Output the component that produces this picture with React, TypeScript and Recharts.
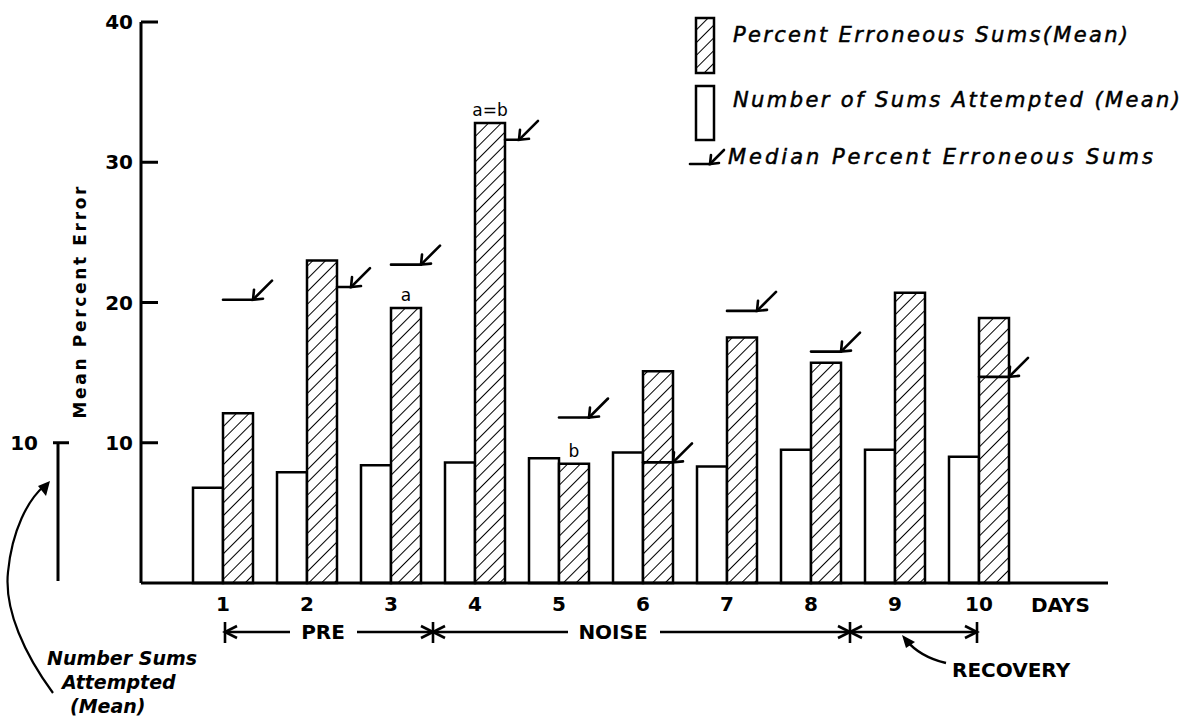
import React from "react";
import {
  ComposedChart,
  Bar,
  Scatter,
  XAxis,
  YAxis,
  LabelList,
  Label,
} from "recharts";

// values
const days = ["1", "2", "3", "4", "5", "6", "7", "8", "9", "10"];
const sumsAttempted = [6.8, 7.9, 8.4, 8.6, 8.9, 9.3, 8.3, 9.5, 9.5, 9.0];
const percentErroneous = [12.1, 23.0, 19.6, 32.8, 8.5, 15.1, 17.5, 15.7, 20.7, 18.9];
const medianErroneous = [20.2, 21.1, 22.7, 31.6, 11.8, 8.6, 19.4, 16.5, null, 14.7];
const significance = ["", "", "a", "a=b", "b", "", "", "", "", ""];
const errorTicks = [10, 20, 30, 40];
const countTicks = [10];

const chartData = days.map((day, i) => ({
  day,
  attempted: sumsAttempted[i],
  erroneous: percentErroneous[i],
  median: medianErroneous[i],
  sig: significance[i],
}));

const FONT = "'DejaVu Sans', sans-serif";
const W = 1194;
const H = 721;
const PLOT_TOP = 22;
const PLOT_BOTTOM = 583;
const BAR_W = 30;
// layout of the category bands (used only for the drawn annotations below the axis)
const BAND_START = 181;
const BAND = 84;
const colX = (i: number) => BAND_START + BAND * (i + 0.5);

function ErrorTick({ x, y, payload }: any) {
  return (
    <g>
      <line x1={x} y1={y} x2={x + 17} y2={y} stroke="#000" strokeWidth={3} />
      <text
        x={x - 8}
        y={y}
        textAnchor="end"
        dominantBaseline="central"
        fontFamily={FONT}
        fontSize={20}
        fontWeight="bold"
        fill="#000"
      >
        {payload.value}
      </text>
    </g>
  );
}

function CountTick({ x, y, payload }: any) {
  return (
    <g>
      <line x1={x - 5} y1={y} x2={x + 11} y2={y} stroke="#000" strokeWidth={3} />
      <line x1={x} y1={y} x2={x} y2={PLOT_BOTTOM - 2} stroke="#000" strokeWidth={3} />
      <text
        x={x - 20}
        y={y}
        textAnchor="end"
        dominantBaseline="central"
        fontFamily={FONT}
        fontSize={20}
        fontWeight="bold"
        fill="#000"
      >
        {payload.value}
      </text>
    </g>
  );
}

function YTitle({ viewBox }: any) {
  const x = viewBox.x + viewBox.width - 61;
  const y = viewBox.y + viewBox.height / 2;
  return (
    <text
      x={x}
      y={y}
      transform={`rotate(-90 ${x} ${y})`}
      textAnchor="middle"
      dominantBaseline="central"
      fontFamily={FONT}
      fontSize={17}
      fontWeight="bold"
      textLength={232}
      lengthAdjust="spacing"
      fill="#000"
    >
      Mean Percent Error
    </text>
  );
}

function MedianMark(props: any) {
  const { cx, cy, payload } = props;
  if (payload == null || payload.median == null || cy == null || isNaN(cy)) return <g />;
  const outside =
    payload.median < payload.erroneous && payload.erroneous - payload.median < 3;
  const x0 = outside ? cx + BAR_W : cx;
  const x1 = outside ? cx + BAR_W + 14 : cx + BAR_W;
  return (
    <g stroke="#000" strokeWidth={2.6} fill="none" strokeLinecap="round">
      <line x1={x0} y1={cy} x2={x1} y2={cy} />
      <line x1={x1} y1={cy} x2={x1 + 19} y2={cy - 19} />
      <polyline points={`${x1 + 1},${cy - 10} ${x1},${cy} ${x1 + 10},${cy - 1}`} />
    </g>
  );
}

function Annotations() {
  const rowY = 632;
  const head = (x: number, dir: number) => (
    <polyline
      points={`${x + dir * 12},${rowY - 6} ${x},${rowY} ${x + dir * 12},${rowY + 6}`}
      fill="none"
      stroke="#000"
      strokeWidth={2.6}
    />
  );
  const bar = (x: number) => (
    <line x1={x} y1={rowY - 10} x2={x} y2={rowY + 11} stroke="#000" strokeWidth={2.6} />
  );
  const a = colX(0) + 2;
  const b = colX(2.5);
  const c = colX(7.5) - 3;
  const d = colX(9) - 2;
  const txt = {
    fontFamily: FONT,
    fontSize: 20,
    fontWeight: "bold",
    fill: "#000",
  } as const;
  const legendTxt = {
    fontFamily: FONT,
    fontSize: 21,
    fontStyle: "italic",
    fill: "#000",
    stroke: "#000",
    strokeWidth: 0.5,
    lengthAdjust: "spacing",
    dominantBaseline: "central",
  } as const;
  return (
    <svg
      width={W}
      height={H}
      style={{ position: "absolute", left: 0, top: 0, pointerEvents: "none" }}
    >
      <defs>
        <pattern
          id="hatchLegend"
          width={9}
          height={9}
          patternUnits="userSpaceOnUse"
          patternTransform="rotate(45)"
        >
          <line x1={0} y1={0} x2={0} y2={9} stroke="#000" strokeWidth={2} />
        </pattern>
      </defs>

      {/* legend */}
      <rect x={696} y={18} width={18} height={55} fill="url(#hatchLegend)" stroke="#000" strokeWidth={2.5} />
      <text x={733} y={35} textLength={395} {...legendTxt}>
        Percent Erroneous Sums(Mean)
      </text>
      <rect x={696} y={86} width={18} height={54} fill="#fff" stroke="#000" strokeWidth={2.5} />
      <text x={733} y={100} textLength={447} {...legendTxt}>
        Number of Sums Attempted (Mean)
      </text>
      <g stroke="#000" strokeWidth={2.6} fill="none" strokeLinecap="round">
        <line x1={690} y1={164} x2={710} y2={164} />
        <line x1={710} y1={164} x2={724} y2={150} />
        <polyline points="711,155 710,164 719,163" />
      </g>
      <text x={728} y={157} textLength={425} {...legendTxt}>
        Median Percent Erroneous Sums
      </text>

      {/* period brackets */}
      <g stroke="#000" strokeWidth={2.6}>
        <line x1={a} y1={rowY} x2={290} y2={rowY} />
        <line x1={357} y1={rowY} x2={b} y2={rowY} />
        <line x1={b} y1={rowY} x2={568} y2={rowY} />
        <line x1={660} y1={rowY} x2={c} y2={rowY} />
        <line x1={c} y1={rowY} x2={d} y2={rowY} />
      </g>
      {bar(a)}
      {head(a, 1)}
      {head(b, -1)}
      {bar(b)}
      {head(b, 1)}
      {head(c, -1)}
      {bar(c)}
      {head(c, 1)}
      {head(d, -1)}
      {bar(d)}
      <text x={323} y={rowY} textAnchor="middle" dominantBaseline="central" {...txt}>PRE</text>
      <text x={613} y={rowY} textAnchor="middle" dominantBaseline="central" {...txt}>NOISE</text>
      <text x={952} y={670} dominantBaseline="central" {...txt}>RECOVERY</text>
      <path d="M 946 663 Q 920 657 906 640" fill="none" stroke="#000" strokeWidth={2.6} />
      <polygon points="902,635 915,642 906,648" fill="#000" />

      {/* secondary axis note */}
      <path
        d="M 53 693 C 25 655, 4 610, 8 572 C 12 530, 28 500, 44 486"
        fill="none"
        stroke="#000"
        strokeWidth={2.2}
      />
      <polygon points="50,481 38,486 46,496" fill="#000" />
      <g fontFamily={FONT} fontSize={19} fontStyle="italic" fontWeight="bold" fill="#000">
        <text x={47} y={658} dominantBaseline="central">Number Sums</text>
        <text x={62} y={682} dominantBaseline="central">Attempted</text>
        <text x={70} y={706} dominantBaseline="central">(Mean)</text>
      </g>
    </svg>
  );
}

export default function App() {
  return (
    <div
      style={{
        position: "absolute",
        left: 0,
        top: 0,
        width: W,
        height: H,
        background: "#fff",
      }}
    >
      <ComposedChart
        width={W}
        height={H}
        data={chartData}
        margin={{ top: PLOT_TOP, right: 86, bottom: 94, left: 0 }}
        barGap={0}
        barSize={BAR_W}
      >
        <defs>
          <pattern
            id="hatch"
            width={9}
            height={9}
            patternUnits="userSpaceOnUse"
            patternTransform="rotate(45)"
          >
            <rect width={9} height={9} fill="#fff" />
            <line x1={0} y1={0} x2={0} y2={9} stroke="#000" strokeWidth={2} />
          </pattern>
        </defs>
        <XAxis
          dataKey="day"
          type="category"
          height={44}
          interval={0}
          padding={{ left: 40, right: 87 }}
          axisLine={{ stroke: "#000", strokeWidth: 3 }}
          tickLine={false}
          tickSize={0}
          tickMargin={14}
          tick={{ fill: "#000", fontSize: 20, fontFamily: FONT, fontWeight: "bold" }}
        >
          <Label
            value="DAYS"
            position="insideRight"
            offset={18}
            fill="#000"
            fontSize={20}
            fontWeight="bold"
            fontFamily={FONT}
          />
        </XAxis>
        <YAxis
          yAxisId="err"
          type="number"
          domain={[0, 40]}
          ticks={errorTicks}
          width={83}
          axisLine={{ stroke: "#000", strokeWidth: 3 }}
          tickLine={false}
          tickSize={0}
          tickMargin={0}
          tick={(p: any) => <ErrorTick {...p} />}
        >
          <Label content={(p: any) => <YTitle {...p} />} />
        </YAxis>
        <YAxis
          yAxisId="num"
          type="number"
          domain={[0, 40]}
          ticks={countTicks}
          width={58}
          axisLine={false}
          tickLine={false}
          tickSize={0}
          tickMargin={0}
          tick={(p: any) => <CountTick {...p} />}
        />
        <Bar
          yAxisId="num"
          dataKey="attempted"
          fill="#fff"
          stroke="#000"
          strokeWidth={2.5}
          isAnimationActive={false}
        />
        <Bar
          yAxisId="err"
          dataKey="erroneous"
          fill="url(#hatch)"
          stroke="#000"
          strokeWidth={2.5}
          isAnimationActive={false}
        >
          <LabelList
            dataKey="sig"
            position="top"
            offset={7}
            fill="#000"
            fontSize={17}
            fontFamily={FONT}
          />
        </Bar>
        <Scatter
          yAxisId="err"
          dataKey="median"
          shape={(p: any) => <MedianMark {...p} />}
          isAnimationActive={false}
        />
      </ComposedChart>
      <Annotations />
    </div>
  );
}
